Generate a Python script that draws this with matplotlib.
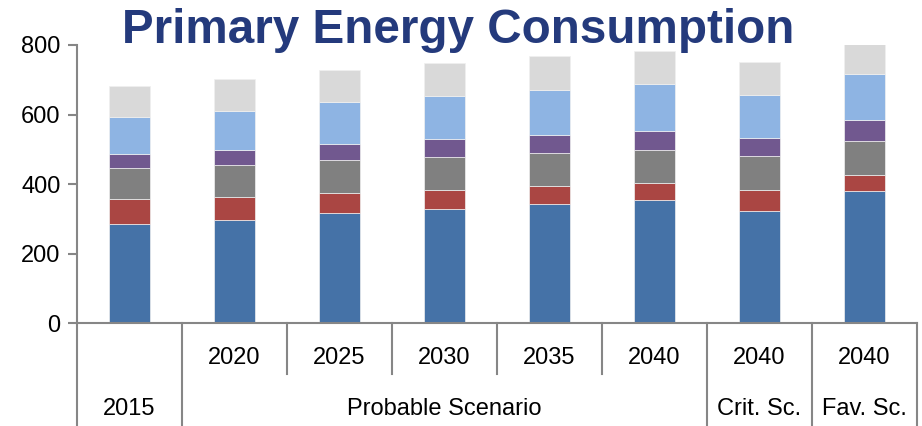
import matplotlib
matplotlib.use("Agg")
import numpy as np
import matplotlib.pyplot as plt
import matplotlib.transforms as mtransforms

plt.rcParams['font.family'] = ['Liberation Sans', 'DejaVu Sans']

# one bar per column, bottom row of labels holds the scenario groups
years = ['2015', '2020', '2025', '2030', '2035', '2040', '2040', '2040']
groups = [('2015', 0, 0), ('Probable Scenario', 1, 5), ('Crit. Sc.', 6, 6), ('Fav. Sc.', 7, 7)]

# stacked layers, bottom to top
layer1 = [286, 296, 317, 329, 343, 354, 322, 379]
layer2 = [70, 68, 59, 55, 51, 48, 62, 46]
layer3 = [90, 91, 93, 94, 95, 97, 97, 99]
layer4 = [41, 44, 47, 52, 53, 55, 52, 61]
layer5 = [106, 112, 121, 124, 129, 134, 124, 132]
layer6 = [88, 90, 92, 95, 97, 96, 94, 87]

layers = [layer1, layer2, layer3, layer4, layer5, layer6]
colors = ['#4572a7', '#aa4643', '#808080', '#71588f', '#8eb4e3', '#d9d9d9']

AXIS_GRAY = '#868686'

fig = plt.figure(figsize=(9.22, 4.26), dpi=100)
ax = fig.add_axes([0.0832, 0.241, 0.9114, 0.6534])

x = np.arange(len(years))
bottom = np.zeros(len(years))
for vals, col in zip(layers, colors):
    ax.bar(x, vals, width=0.39, bottom=bottom, color=col,
           edgecolor='#f0f0f0', linewidth=0.5, zorder=2)
    bottom += np.array(vals)

ax.set_xlim(-0.5, len(years) - 0.5)
ax.set_ylim(0, 800)
ax.set_yticks([0, 200, 400, 600, 800])
ax.tick_params(axis='y', labelsize=17, length=6.5, width=1.5, color=AXIS_GRAY, pad=5)
ax.set_xticks([])

for side in ['top', 'right']:
    ax.spines[side].set_visible(False)
for side in ['left', 'bottom']:
    ax.spines[side].set_color(AXIS_GRAY)
    ax.spines[side].set_linewidth(1.5)

# multi-level category axis drawn below the plot
trans = mtransforms.blended_transform_factory(ax.transData, ax.transAxes)
group_edges = set()
for name, a, b in groups:
    group_edges.add(a - 0.5)
    group_edges.add(b + 0.5)
for edge in np.arange(-0.5, len(years), 1.0):
    y_end = -0.40 if edge in group_edges else -0.182
    ax.plot([edge, edge], [0, y_end], color=AXIS_GRAY, lw=1.5,
            transform=trans, clip_on=False, zorder=1)

for i, yr in enumerate(years):
    if i == 0:
        continue
    ax.text(i, -0.125, yr, transform=trans, ha='center', va='center', fontsize=17)

for name, a, b in groups:
    ax.text((a + b) / 2, -0.308, name, transform=trans, ha='center', va='center', fontsize=17)

fig.text(0.497, 0.899, 'Primary Energy Consumption', ha='center', va='baseline',
         fontsize=34.3, fontweight='bold', color='#243a7c')

fig.savefig('out.png', dpi=100)
